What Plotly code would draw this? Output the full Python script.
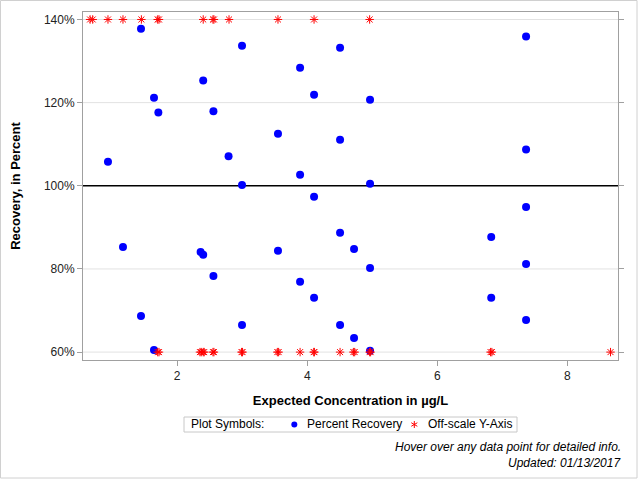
import plotly.graph_objects as go

# Percent recovery points (expected concentration ug/L, recovery %)
rec_x = [1.443, 1.643, 1.71, 2.40, 2.557, 2.997, 3.89, 4.105, 4.505, 4.966, 7.366,
         0.935, 2.79, 3.55, 2.997, 3.89, 4.105, 1.166, 2.36, 2.40, 2.557, 3.55, 3.89, 4.105,
         4.505, 4.966, 7.366, 7.366, 4.505, 4.72, 4.966, 6.83, 7.366, 6.83,
         1.443, 1.643, 2.997, 4.505, 4.72, 4.966, 7.366]
rec_y = [137.8, 121.2, 117.6, 125.3, 117.9, 133.7, 128.4, 121.9, 133.2, 120.7, 135.9,
         105.8, 107.1, 112.5, 100.2, 102.65, 97.35, 85.3, 84.1, 83.4, 78.3, 84.4, 76.9, 73.1,
         111.1, 100.5, 108.7, 94.9, 88.7, 84.8, 80.2, 87.7, 81.2, 73.1,
         68.7, 60.5, 66.5, 66.5, 63.4, 60.3, 67.7]

# Off-scale points (plotted at the axis limit)
off_hi_x = [0.66, 0.70, 0.935, 1.166, 1.449, 1.70, 1.72, 2.40, 2.55, 2.565, 2.797, 3.55, 4.105, 4.96]
off_lo_x = [1.70, 1.72, 2.35, 2.37, 2.40, 2.415, 2.55, 2.565, 2.99, 3.005, 3.54, 3.56, 3.89,
            4.10, 4.11, 4.505, 4.71, 4.73, 4.96, 4.975, 6.82, 6.84, 8.665]
off_hi_y = [140] * len(off_hi_x)
off_lo_y = [60] * len(off_lo_x)

y_ticks = [60, 80, 100, 120, 140]
y_tick_text = ["60%", "80%", "100%", "120%", "140%"]
grid_ticks = [60, 80, 120, 140]
x_ticks = [2, 4, 6, 8]

FONT = "Liberation Sans, Arial, sans-serif"
AXC = "#a0a0a0"

# pixel -> paper helpers for layout decoration (plot area l=83, w=535, t=12, h=348)
def px(x):
    return (x - 83) / 535.0

def py(y):
    return (360 - y) / 348.0

fig = go.Figure()
fig.add_trace(go.Scatter(
    x=rec_x, y=rec_y, mode="markers", name="Percent Recovery",
    marker=dict(symbol="circle", size=8, color="#0000ff", line=dict(width=0)),
    hovertemplate="Conc: %{x}<br>Recovery: %{y}%<extra></extra>"))
fig.add_trace(go.Scatter(
    x=off_hi_x + off_lo_x, y=off_hi_y + off_lo_y, mode="markers", name="Off-scale Y-Axis",
    marker=dict(symbol="asterisk-open", size=7, color="#ff0000", line=dict(width=1, color="#ff0000")),
    hovertemplate="Conc: %{x}<extra></extra>"))

# legend (drawn manually to match compact SAS-style box)
ly = 424.5
lcx = 414.3
r = 3.5
legend_shapes = [
    dict(type="rect", xref="paper", yref="paper", x0=px(184), x1=px(517), y0=py(432), y1=py(417),
         line=dict(color="#c8c8c8", width=1), fillcolor="white"),
    dict(type="circle", xref="paper", yref="paper", x0=px(291.3), x1=px(297.3), y0=py(ly + 3), y1=py(ly - 3),
         line=dict(width=0), fillcolor="#0000ff"),
    dict(type="path", xref="paper", yref="paper",
         path=(f"M {px(lcx)},{py(ly - r)} L {px(lcx)},{py(ly + r)} "
               f"M {px(lcx - 3.03)},{py(ly - 1.75)} L {px(lcx + 3.03)},{py(ly + 1.75)} "
               f"M {px(lcx - 3.03)},{py(ly + 1.75)} L {px(lcx + 3.03)},{py(ly - 1.75)}"),
         line=dict(color="#ff0000", width=1)),
]
legend_texts = [("Plot Symbols:", 189), ("Percent Recovery", 305), ("Off-scale Y-Axis", 425.7)]

annotations = [
    dict(text=t, xref="paper", yref="paper", x=px(x0), y=py(ly - 1), xanchor="left", yanchor="middle",
         showarrow=False, font=dict(size=12, color="#000"))
    for t, x0 in legend_texts
]
annotations += [
    dict(text="<i>Hover over any data point for detailed info.</i>", xref="paper", yref="paper",
         x=px(623), y=py(446.7), xanchor="right", yanchor="middle", showarrow=False,
         font=dict(size=12, color="#000")),
    dict(text="<i>Updated: 01/13/2017</i>", xref="paper", yref="paper",
         x=px(623), y=py(463.3), xanchor="right", yanchor="middle", showarrow=False,
         font=dict(size=12, color="#000")),
]

grid_shapes = [
    dict(type="line", xref="paper", yref="y", x0=0, x1=1, y0=g, y1=g,
         line=dict(color="#e2e2e2", width=1), layer="below")
    for g in grid_ticks
]

fig.update_layout(
    width=640, height=480,
    margin=dict(l=83, r=22, t=12, b=120),
    paper_bgcolor="white", plot_bgcolor="white",
    font=dict(family=FONT, size=12, color="#000"),
    showlegend=False,
    xaxis=dict(range=[0.551, 8.78], tickvals=x_ticks, showgrid=False, zeroline=False,
               showline=True, linecolor=AXC, linewidth=1, mirror=True,
               ticks="outside", ticklen=5, tickcolor=AXC,
               tickfont=dict(size=12, color="#222"),
               title=dict(text="Expected Concentration in µg/L",
                          font=dict(size=13, family=FONT, weight="bold"), standoff=13)),
    yaxis=dict(range=[58.1, 141.8], tickvals=y_ticks, ticktext=y_tick_text,
               showgrid=False, zeroline=False,
               showline=True, linecolor=AXC, linewidth=1, mirror="ticks",
               ticks="outside", ticklen=5, tickcolor=AXC,
               tickfont=dict(size=12, color="#222"),
               title=dict(text="Recovery, in Percent",
                          font=dict(size=13, family=FONT, weight="bold"), standoff=20)),
    shapes=grid_shapes + [
        dict(type="line", xref="paper", yref="y", x0=0, x1=1, y0=100, y1=100,
             line=dict(color="#000000", width=1.6), layer="below"),
        dict(type="rect", xref="paper", yref="paper", x0=px(0.5), x1=px(637), y0=py(478), y1=py(0.5),
             line=dict(color="#d0d0d0", width=1)),
    ] + legend_shapes,
    annotations=annotations,
)

fig.write_html("out.html")
